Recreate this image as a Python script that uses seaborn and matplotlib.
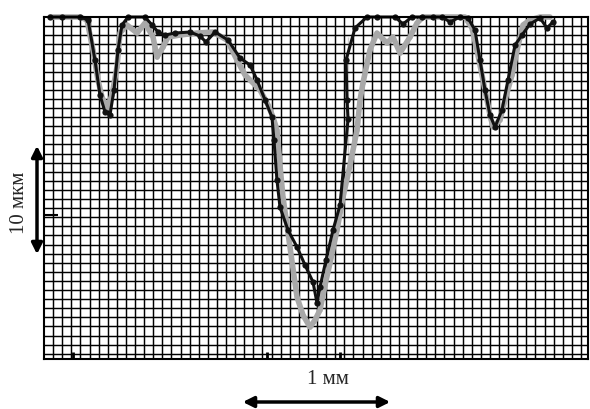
import numpy as np
import pandas as pd
import matplotlib
matplotlib.use('Agg')
import matplotlib.pyplot as plt
import seaborn as sns

# profile positions / depths, in grid-cell units
black_x = [0.66, 1.98, 3.96, 4.84, 5.60, 6.15, 6.70, 7.25, 7.69, 8.13, 8.57, 9.23,
           11.10, 11.87, 12.53, 13.30, 14.40, 16.04, 17.14, 17.80, 18.79, 20.22,
           21.54, 22.64, 23.41, 24.29, 25.05, 25.27, 25.60, 25.93, 26.81, 27.80,
           28.68, 29.56, 30.00, 30.33, 30.99, 31.76, 32.53, 33.41, 33.41, 33.30,
           33.19, 33.41, 34.18, 35.49, 36.59, 38.57, 39.45, 40.44, 41.54, 42.75,
           43.74, 44.62, 45.71, 46.59, 47.36, 47.91, 48.46, 49.01, 49.56, 50.33,
           50.99, 51.76, 52.53, 53.41, 54.51, 55.27, 55.93]
black_depth = [0, 0, 0, 0.33, 4.73, 8.57, 10.44, 10.77, 8.02, 3.63, 0.88, 0,
               0, 0.88, 1.65, 1.98, 1.76, 1.65, 2.09, 2.75, 1.65, 2.53,
               4.51, 5.27, 6.92, 9.12, 10.99, 13.52, 17.91, 20.88, 23.41, 25.27,
               27.25, 29.12, 31.43, 29.67, 26.70, 23.41, 20.66, 17.91, 13.52, 9.12,
               4.73, 2.20, 1.21, 0, 0, 0, 0.77, 0, 0, 0,
               0, 0.55, 0, 0.11, 1.43, 4.73, 8.02, 10.77, 12.09, 10.22,
               6.92, 3.08, 1.98, 0.77, 0.11, 1.21, 0.55]

gray_x = [0.66, 3.96, 4.73, 5.38, 5.93, 6.37, 6.92, 7.47, 8.02, 8.35, 9.12, 10.22,
          11.10, 11.98, 12.42, 13.08, 13.63, 14.95, 16.81, 18.57, 20.11, 21.21,
          22.09, 23.74, 24.62, 25.16, 25.60, 25.93, 26.26, 27.03, 27.80, 28.46,
          29.23, 29.78, 30.33, 30.88, 31.43, 32.20, 32.86, 33.63, 34.40, 34.73,
          35.05, 35.82, 36.59, 37.69, 38.35, 39.12, 40.22, 40.99, 41.65, 43.52,
          46.26, 47.03, 47.69, 48.46, 49.01, 49.34, 50.11, 50.66, 51.43, 51.98,
          52.64, 53.41, 54.51, 55.60]
gray_depth = [0, 0, 0.33, 3.63, 6.92, 8.79, 10.0, 8.57, 5.49, 1.76, 0.88, 1.76,
              0.66, 2.20, 4.40, 3.30, 2.20, 1.98, 1.76, 1.65, 2.53, 4.73,
              6.37, 8.02, 9.67, 10.99, 12.42, 16.26, 19.78, 25.27, 30.77, 32.75,
              34.07, 33.30, 32.20, 29.45, 27.03, 23.41, 19.78, 16.26, 12.42, 9.12,
              7.25, 3.63, 1.76, 2.86, 2.20, 3.96, 2.20, 0.66, 0, 0,
              0, 1.21, 4.18, 8.02, 10.77, 12.09, 11.32, 9.12, 6.37, 3.63,
              0.88, 0.33, 0, 0]

# stray tick marks on the frame
bottom_marks = [3.19, 8.0, 24.5, 32.5]
left_marks = [21.76]

black_df = pd.DataFrame({'x': black_x, 'depth': black_depth})
gray_df = pd.DataFrame({'x': gray_x, 'depth': gray_depth})

sns.set_style('white')
plt.rcParams['font.family'] = ['Liberation Serif', 'DejaVu Serif']

fig = plt.figure(figsize=(5.9, 4.09), dpi=100)
ax = fig.add_axes([44 / 590, 50 / 409, 544 / 590, 342 / 409])

sns.lineplot(data=gray_df, x='x', y='depth', sort=False, color='#a8a8a8',
             lw=4, marker='o', markersize=3, markeredgewidth=0, ax=ax)
sns.lineplot(data=black_df, x='x', y='depth', sort=False, color='#111111',
             lw=2.2, marker='o', markersize=4.5, markeredgewidth=0, ax=ax)
for line in ax.lines:
    line.set_clip_on(False)

ax.set_xlim(0, 59.78)
ax.set_ylim(37.58, 0)

# graph paper
ax.set_xticks(np.arange(1, 60))
ax.set_yticks(np.arange(1, 38))
ax.grid(True, color='black', lw=1.05)
ax.set_axisbelow(True)
ax.set_xticklabels([])
ax.set_yticklabels([])
ax.tick_params(which='major', length=0)
ax.set_xticks(bottom_marks, minor=True)
ax.set_yticks(left_marks, minor=True)
ax.tick_params(axis='x', which='minor', direction='in', length=5, width=2, bottom=True, color='black')
ax.tick_params(axis='y', which='minor', direction='in', length=10, width=1.5, left=True, color='black')
ax.set_xlabel('')
ax.set_ylabel('')
for s in ax.spines.values():
    s.set_color('black')
    s.set_linewidth(1.5)

# scale bars
fig.add_artist(matplotlib.patches.FancyArrowPatch(
    (37 / 590, 1 - 143 / 409), (37 / 590, 1 - 257 / 409), transform=fig.transFigure,
    arrowstyle='<|-|>', mutation_scale=16, lw=2.5, color='black'))
fig.text(20 / 590, 1 - 203 / 409, '10 мкм', rotation=90, ha='center', va='center', fontsize=15)
fig.add_artist(matplotlib.patches.FancyArrowPatch(
    (240 / 590, 1 - 402 / 409), (393 / 590, 1 - 402 / 409), transform=fig.transFigure,
    arrowstyle='<|-|>', mutation_scale=16, lw=2.5, color='black'))
fig.text(328 / 590, 1 - 380 / 409, '1 мм', ha='center', va='center', fontsize=15)

fig.savefig('out.png', dpi=100)
